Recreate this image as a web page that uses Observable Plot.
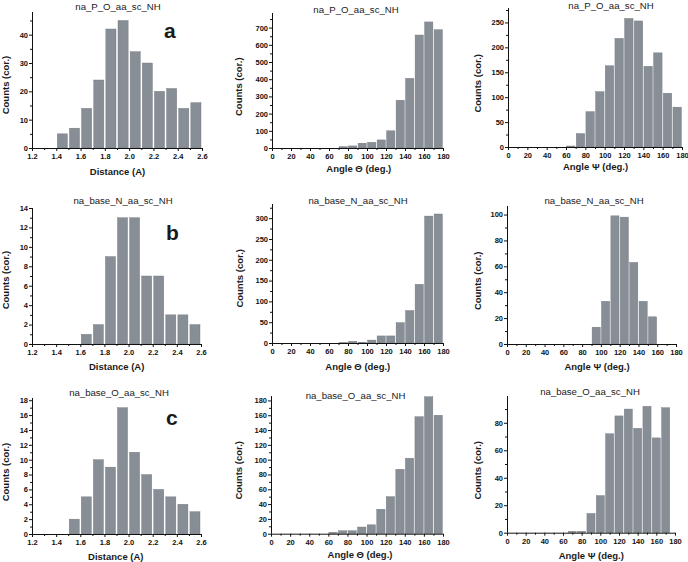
<!DOCTYPE html>
<html><head><meta charset="utf-8">
<script src="https://cdn.jsdelivr.net/npm/d3@7"></script>
<script src="https://cdn.jsdelivr.net/npm/@observablehq/plot@0.6"></script>
<style>
html,body{margin:0;padding:0;background:#fff;}
#chart{position:relative;width:688px;height:562px;overflow:hidden;background:#fff;font-family:"Liberation Sans",Arial,sans-serif;}
#chart svg{position:absolute;}
</style></head><body><div id="chart"></div>
<script>
// ---------- texts ----------
const titles = ["na_P_O_aa_sc_NH", "na_base_N_aa_sc_NH", "na_base_O_aa_sc_NH"];
const letters = ["a", "b", "c"];
const xLabels = ["Distance (A)", "Angle \u0398  (deg.)", "Angle \u03A8 (deg.)"];
const yLabel = "Counts (cor.)";

// ---------- tick values ----------
const distTicks = [1.2, 1.4, 1.6, 1.8, 2.0, 2.2, 2.4, 2.6];
const distMinor = [1.3, 1.5, 1.7, 1.9, 2.1, 2.3, 2.5];
const angleTicks = [0, 20, 40, 60, 80, 100, 120, 140, 160, 180];
const angleMinor = [10, 30, 50, 70, 90, 110, 130, 150, 170];

// ---------- data: bin starts and counts ----------
const distBinsA = [1.4, 1.5, 1.6, 1.7, 1.8, 1.9, 2.0, 2.1, 2.2, 2.3, 2.4, 2.5];
const distCountsA = [5, 7, 14, 24, 42, 45, 34, 30, 20, 21, 14, 16];
const thetaBinsA = [70, 80, 90, 100, 110, 120, 130, 140, 150, 160, 170];
const thetaCountsA = [8, 12, 28, 33, 47, 100, 278, 405, 657, 733, 688];
const psiBinsA = [60, 70, 80, 90, 100, 110, 120, 130, 140, 150, 160, 170];
const psiCountsA = [2, 27, 71, 111, 163, 218, 258, 253, 162, 189, 108, 80];

const distBinsB = [1.6, 1.7, 1.8, 1.9, 2.0, 2.1, 2.2, 2.3, 2.4, 2.5];
const distCountsB = [1, 2, 9, 13, 13, 7, 7, 3, 3, 2];
const thetaBinsB = [70, 80, 90, 100, 110, 120, 130, 140, 150, 160, 170];
const thetaCountsB = [1, 4, 2, 7, 17, 17, 49, 78, 141, 305, 310];
const psiBinsB = [90, 100, 110, 120, 130, 140, 150];
const psiCountsB = [13, 33, 99, 98, 63, 33, 21];

const distBinsC = [1.5, 1.6, 1.7, 1.8, 1.9, 2.0, 2.1, 2.2, 2.3, 2.4, 2.5];
const distCountsC = [2, 5, 10, 9, 17, 11, 8, 6, 5, 4, 3];
const thetaBinsC = [60, 70, 80, 90, 100, 110, 120, 130, 140, 150, 160, 170];
const thetaCountsC = [2, 4, 4, 9, 12, 33, 50, 87, 102, 158, 185, 160];
const psiBinsC = [65, 75, 85, 95, 105, 115, 125, 135, 145, 155, 165];
const psiCountsC = [1, 1, 14, 27, 72, 85, 90, 76, 92, 69, 91];

// ---------- y ticks ----------
const yTicksA1 = [0, 10, 20, 30, 40], yMinorA1 = [5, 15, 25, 35, 45];
const yTicksA2 = [0, 100, 200, 300, 400, 500, 600, 700], yMinorA2 = [50, 150, 250, 350, 450, 550, 650, 750];
const yTicksA3 = [0, 50, 100, 150, 200, 250], yMinorA3 = [25, 75, 125, 175, 225, 275];
const yTicksB1 = [0, 2, 4, 6, 8, 10, 12, 14], yMinorB1 = [1, 3, 5, 7, 9, 11, 13];
const yTicksB2 = [0, 50, 100, 150, 200, 250, 300], yMinorB2 = [25, 75, 125, 175, 225, 275, 325];
const yTicksB3 = [0, 20, 40, 60, 80, 100], yMinorB3 = [10, 30, 50, 70, 90];
const yTicksC1 = [0, 2, 4, 6, 8, 10, 12, 14, 16, 18], yMinorC1 = [1, 3, 5, 7, 9, 11, 13, 15, 17];
const yTicksC2 = [0, 20, 40, 60, 80, 100, 120, 140, 160, 180], yMinorC2 = [10, 30, 50, 70, 90, 110, 130, 150, 170];
const yTicksC3 = [0, 20, 40, 60, 80], yMinorC3 = [10, 30, 50, 70, 90];

const FONT = "'Liberation Sans', Arial, sans-serif";
const chart = document.getElementById("chart");

function panel(cfg) {
  const mL = 30, mR = 8, mT = 4, mB = 16;
  const table = cfg.bins.map((b, i) => ({x1: b, x2: b + cfg.w, y0: 0, y: cfg.counts[i]}));
  const plot = Plot.plot({
    width: cfg.x1 - cfg.x0 + mL + mR,
    height: cfg.yBot - cfg.yTop + mT + mB,
    marginLeft: mL, marginRight: mR, marginTop: mT, marginBottom: mB,
    x: {domain: cfg.xDomain, axis: null},
    y: {domain: [0, cfg.yMax], axis: null},
    style: {background: "transparent", overflow: "visible", fontFamily: FONT, fontSize: "7.5px", fontWeight: "bold", color: "#111"},
    marks: [
      Plot.rect(table, {x1: "x1", x2: "x2", y1: "y0", y2: "y", fill: "#888e95", stroke: "#70767d", strokeWidth: 0.4, insetLeft: cfg.inset, insetRight: cfg.inset}),
      Plot.ruleY([0], {stroke: "#111"}),
      Plot.ruleX([cfg.xDomain[0]], {stroke: "#111"}),
      Plot.axisX(cfg.xTicks, {anchor: "bottom", tickSize: 3, tickPadding: 2, tickFormat: cfg.xFmt, label: null}),
      Plot.axisX(cfg.xMinor, {anchor: "bottom", tickSize: 2, tickFormat: () => "", label: null}),
      Plot.axisY(cfg.yTicks, {anchor: "left", tickSize: 3, tickPadding: 1.5, tickFormat: "d", label: null}),
      Plot.axisY(cfg.yMinor, {anchor: "left", tickSize: 2, tickFormat: () => "", label: null})
    ]
  });
  plot.style.left = (cfg.x0 - mL) + "px";
  plot.style.top = (cfg.yTop - mT) + "px";
  chart.appendChild(plot);
}

const distFmt = d3.format(".1f");
const angFmt = d3.format("d");
const D = {w: 0.1, xDomain: [1.2, 2.6], xTicks: distTicks, xMinor: distMinor, xFmt: distFmt, inset: 1};
const A = {w: 10, xDomain: [0, 180], xTicks: angleTicks, xMinor: angleMinor, xFmt: angFmt, inset: 0.6};

panel({...D, bins: distBinsA, counts: distCountsA, x0: 32, x1: 202, yTop: 12, yBot: 148, yMax: 48, yTicks: yTicksA1, yMinor: yMinorA1});
panel({...A, bins: thetaBinsA, counts: thetaCountsA, x0: 272, x1: 443, yTop: 13, yBot: 148, yMax: 785, yTicks: yTicksA2, yMinor: yMinorA2});
panel({...A, bins: psiBinsA, counts: psiCountsA, x0: 508, x1: 682, yTop: 8, yBot: 147, yMax: 279, yTicks: yTicksA3, yMinor: yMinorA3});

panel({...D, bins: distBinsB, counts: distCountsB, x0: 32, x1: 201, yTop: 208, yBot: 344, yMax: 14, yTicks: yTicksB1, yMinor: yMinorB1});
panel({...A, bins: thetaBinsB, counts: thetaCountsB, x0: 272, x1: 443, yTop: 204, yBot: 343, yMax: 334, yTicks: yTicksB2, yMinor: yMinorB2});
panel({...A, bins: psiBinsB, counts: psiCountsB, x0: 507, x1: 676, yTop: 206, yBot: 344, yMax: 106.6, yTicks: yTicksB3, yMinor: yMinorB3});

panel({...D, bins: distBinsC, counts: distCountsC, x0: 32, x1: 201, yTop: 398, yBot: 534, yMax: 18.3, yTicks: yTicksC1, yMinor: yMinorC1});
panel({...A, bins: thetaBinsC, counts: thetaCountsC, x0: 271, x1: 443, yTop: 396, yBot: 533.7, yMax: 186, yTicks: yTicksC2, yMinor: yMinorC2});
panel({...A, bins: psiBinsC, counts: psiCountsC, x0: 507, x1: 675, yTop: 396, yBot: 532.7, yMax: 99.5, yTicks: yTicksC3, yMinor: yMinorC3});

// ---------- overlay text ----------
const svg = d3.select(chart).append("svg")
  .attr("width", 688).attr("height", 562)
  .style("left", "0px").style("top", "0px")
  .attr("font-family", FONT).attr("fill", "#1a1a1a");

const titlePos = [[118, 7, 0], [356, 9.5, 0], [611, 5.5, 0],
                  [123, 201, 1], [358, 201, 1], [594, 201, 1],
                  [119, 392.3, 2], [355.5, 395.7, 2], [590, 392, 2]];
titlePos.forEach(([x, y, r]) => {
  svg.append("text").attr("x", x).attr("y", y + 3.4).attr("text-anchor", "middle")
    .attr("font-size", 9.6).text(titles[r]);
});

const xLabPos = [[117.5, 171.7, 0], [358.8, 168.5, 1], [595.5, 166.7, 2],
                 [116.7, 366.7, 0], [357.8, 366.2, 1], [597, 366.7, 2],
                 [115.8, 556.5, 0], [360, 554.2, 1], [591.3, 555.3, 2]];
xLabPos.forEach(([x, y, c]) => {
  svg.append("text").attr("x", x).attr("y", y + 3.4).attr("text-anchor", "middle")
    .attr("font-size", 9.5).attr("font-weight", "bold").text(xLabels[c]);
});

const yLabPos = [[5.5, 85], [238.3, 86.7], [477.5, 83.3],
                 [5.8, 280], [239.2, 278.3], [477.5, 280.8],
                 [5.8, 472], [238.7, 470.3], [477.5, 470.3]];
yLabPos.forEach(([x, y]) => {
  svg.append("text").attr("transform", `translate(${x + 3.4},${y}) rotate(-90)`)
    .attr("text-anchor", "middle").attr("font-size", 9.5).attr("font-weight", "bold").text(yLabel);
});

const letterPos = [[164, 38], [166, 240], [166, 425]];
letterPos.forEach(([x, y], i) => {
  svg.append("text").attr("x", x).attr("y", y).attr("font-size", 21)
    .attr("font-weight", "bold").text(letters[i]);
});
</script></body></html>
